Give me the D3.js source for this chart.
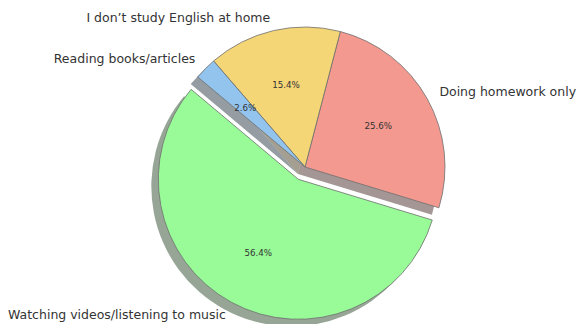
<!DOCTYPE html>
<html>
<head>
<meta charset="utf-8">
<script src="https://cdn.jsdelivr.net/npm/d3@7"></script>
<style>
  html, body { margin: 0; padding: 0; background: #fff; }
  svg { display: block; }
  text { font-family: "DejaVu Sans", sans-serif; }
</style>
</head>
<body>
<svg id="chart" width="577" height="324"></svg>
<script>
// Survey answers: how students study English at home
const categories = [
  "Watching videos/listening to music",
  "Doing homework only",
  "I don\u2019t study English at home",
  "Reading books/articles"
];
const counts = [22, 10, 6, 1];
const colors = ["#98FB98", "#F3998F", "#F5D677", "#92C4EE"];
const explode = [0.1, 0, 0, 0];

const width = 577, height = 324;
const cx = 305, cy = 167, radius = 140;
const startDeg = 140;           // first wedge starts here, counter-clockwise
const labelDistance = 1.1, pctDistance = 0.6;
const shadowDx = -7, shadowDy = 7;

const svg = d3.select("#chart");
const root = svg.append("g").attr("transform", `translate(${cx},${cy})`);

// d3 angles run clockwise from 12 o'clock; go the other way round
const a0 = Math.PI / 2 - startDeg * Math.PI / 180;
const pie = d3.pie().sort(null).value(d => d.value)
  .startAngle(a0).endAngle(a0 - 2 * Math.PI);

const data = categories.map((c, i) => ({ label: c, value: counts[i], color: colors[i], ex: explode[i] }));
const arcs = pie(data);
const total = d3.sum(counts);

const arc = d3.arc().innerRadius(0).outerRadius(radius);

function mid(d) { return (d.startAngle + d.endAngle) / 2; }
function offset(d) {
  const m = mid(d), e = d.data.ex * radius;
  return [Math.sin(m) * e, -Math.cos(m) * e];
}

// shadows sit underneath every wedge
root.append("g").selectAll("path").data(arcs).join("path")
  .attr("d", arc)
  .attr("transform", d => { const [ox, oy] = offset(d); return `translate(${ox + shadowDx},${oy + shadowDy})`; })
  .attr("fill", d => { const c = d3.rgb(d.data.color); return d3.rgb(c.r * 0.3, c.g * 0.3, c.b * 0.3); })
  .attr("fill-opacity", 0.5);

root.append("g").selectAll("path").data(arcs).join("path")
  .attr("d", arc)
  .attr("transform", d => { const [ox, oy] = offset(d); return `translate(${ox},${oy})`; })
  .attr("fill", d => d.data.color)
  .attr("stroke", "#6e6e6e")
  .attr("stroke-width", 0.8)
  .attr("stroke-linejoin", "round");

// percentage labels
root.append("g").selectAll("text").data(arcs).join("text")
  .attr("x", d => offset(d)[0] + Math.sin(mid(d)) * radius * pctDistance)
  .attr("y", d => offset(d)[1] - Math.cos(mid(d)) * radius * pctDistance)
  .attr("text-anchor", "middle")
  .attr("dominant-baseline", "central")
  .attr("font-size", "8.7px")
  .attr("fill", "#333")
  .text(d => (d.value / total * 100).toFixed(1) + "%");

// category labels, kept inside the canvas
const labels = root.append("g").selectAll("text").data(arcs).join("text")
  .attr("x", d => offset(d)[0] + Math.sin(mid(d)) * radius * labelDistance)
  .attr("y", d => offset(d)[1] - Math.cos(mid(d)) * radius * labelDistance)
  .attr("text-anchor", d => Math.sin(mid(d)) > 0 ? "start" : "end")
  .attr("dominant-baseline", "central")
  .attr("font-size", "12.5px")
  .attr("fill", "#333")
  .text(d => d.data.label);

labels.each(function () {
  const b = this.getBBox();
  const left = cx + b.x;
  if (left < 8) this.setAttribute("x", +this.getAttribute("x") + (8 - left));
});
</script>
</body>
</html>
